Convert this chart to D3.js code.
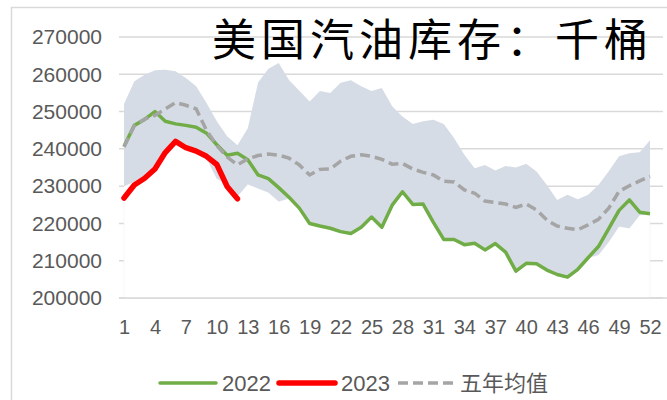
<!DOCTYPE html>
<html>
<head>
<meta charset="utf-8">
<script src="https://cdn.jsdelivr.net/npm/d3@7"></script>
<style>
  body { margin: 0; background: #fff; }
  text { font-family: "Liberation Sans", Arial, sans-serif; }
</style>
</head>
<body>
<script>
var weeks = d3.range(1, 53);
var tickWeeks = [1, 4, 7, 10, 13, 16, 19, 22, 25, 28, 31, 34, 37, 40, 43, 46, 49, 52];
var yTicks = [200000, 210000, 220000, 230000, 240000, 250000, 260000, 270000];

var y2023 = [226800, 230300, 232100, 234600, 239000, 242000, 240300, 239400, 238000, 235800, 229900, 226600];

var y2022 = [240700, 246300, 247900, 250000, 247400, 246700, 246300, 245800, 244200, 241100,
  238300, 238800, 237100, 233000, 232000, 229600, 227000, 224100, 220000, 219300,
  218700, 217800, 217300, 219000, 221700, 219000, 224900, 228500, 225100, 225200,
  220300, 215700, 215700, 214300, 214700, 212900, 214600, 212300, 207200, 209300,
  209200, 207500, 206300, 205600, 207700, 210800, 213800, 218600, 223500, 226300,
  223000, 222600];

var avg5 = [240500, 246300, 248000, 249000, 250700, 252400, 251700, 250700, 245000, 240900,
  237800, 235700, 237300, 238200, 238600, 238300, 237500, 235700, 233000, 234500,
  234600, 236700, 238000, 238400, 238000, 237200, 235900, 236100, 234600, 233700,
  233000, 231300, 231100, 229000, 228100, 226000, 225600, 225200, 224300, 225200,
  223600, 220900, 219300, 218700, 218300, 219600, 221100, 224100, 228600, 230100,
  231400, 232600];

var rangeMax = [252000, 258100, 259900, 261100, 261200, 260800, 259000, 256800, 252300, 247400,
  243400, 241000, 245500, 257800, 261500, 263000, 258500, 255600, 252700, 255500,
  255000, 257700, 258400, 256800, 255500, 256300, 251400, 248700, 246700, 247400,
  247800, 246700, 242900, 238400, 234800, 235700, 234200, 235400, 235000, 236000,
  233900, 230300, 226300, 227700, 226500, 227700, 230300, 234000, 238000, 238800,
  239100, 242300];

var rangeMin = [230000, 231200, 233000, 235300, 239400, 241800, 240000, 239200, 237500, 232000,
  230700, 227200, 230500, 229400, 228300, 225900, 226700, 224100, 220000, 219300,
  218700, 217800, 217300, 219000, 221700, 219000, 224900, 228500, 225100, 225200,
  220300, 215700, 215700, 214300, 214700, 212900, 214600, 212300, 207200, 209300,
  209200, 207500, 206300, 205600, 207700, 210800, 211500, 215000, 219200, 218700,
  222200, 222500];

var width = 667, height = 400;

var svg = d3.select("body")
  .append("svg")
  .attr("width", width)
  .attr("height", height);

svg.append("rect")
  .attr("x", 11.5).attr("y", 7.5)
  .attr("width", 700).attr("height", 500)
  .attr("fill", "#fff")
  .attr("stroke", "#d9d9d9")
  .attr("stroke-width", 1.5);

var xScale = d3.scalePoint()
  .domain(weeks)
  .range([124, 650]);

var yScale = d3.scaleLinear()
  .domain([200000, 270000])
  .range([298, 37]);

// gridlines
svg.append("g")
  .selectAll("line")
  .data(yTicks)
  .enter().append("line")
  .attr("x1", 119).attr("x2", 663)
  .attr("y1", function(d) { return yScale(d); })
  .attr("y2", function(d) { return yScale(d); })
  .attr("stroke", "#d9d9d9")
  .attr("stroke-width", 1.5);

// white lower area hides gridlines, band sits on top
var lowerArea = d3.area()
  .x(function(d, i) { return xScale(weeks[i]); })
  .y0(yScale(200000))
  .y1(function(d) { return yScale(d); });

svg.append("path")
  .datum(rangeMin)
  .attr("d", lowerArea)
  .attr("fill", "#fff")
  .attr("stroke", "#f2f2f2")
  .attr("stroke-width", 0.6);

var bandArea = d3.area()
  .x(function(d, i) { return xScale(weeks[i]); })
  .y0(function(d, i) { return yScale(rangeMin[i]); })
  .y1(function(d) { return yScale(d); });

svg.append("path")
  .datum(rangeMax)
  .attr("d", bandArea)
  .attr("fill", "#d6dce5");

// axis base line
svg.append("line")
  .attr("x1", 119).attr("x2", 667)
  .attr("y1", yScale(200000)).attr("y2", yScale(200000))
  .attr("stroke", "#d9d9d9")
  .attr("stroke-width", 1.5);

var yAxis = d3.axisLeft(yScale).tickValues(yTicks).tickSize(0).tickPadding(0)
  .tickFormat(function(d) { return d; });
svg.append("g")
  .attr("transform", "translate(102,0)")
  .call(yAxis)
  .call(function(g) { g.select(".domain").remove(); })
  .selectAll("text")
  .attr("fill", "#595959")
  .style("font-size", "21px")
  .style("font-family", "'Liberation Sans', Arial, sans-serif");

var xAxis = d3.axisBottom(xScale).tickValues(tickWeeks).tickSize(0).tickPadding(22);
svg.append("g")
  .attr("transform", "translate(0," + yScale(200000) + ")")
  .call(xAxis)
  .call(function(g) { g.select(".domain").remove(); })
  .selectAll("text")
  .attr("fill", "#595959")
  .style("font-size", "20px")
  .style("font-family", "'Liberation Sans', Arial, sans-serif");

function lineFor(arr) {
  return d3.line()
    .x(function(d, i) { return xScale(weeks[i]); })
    .y(function(d) { return yScale(d); })(arr);
}

svg.append("path")
  .attr("d", lineFor(y2022))
  .attr("fill", "none")
  .attr("stroke", "#70ad47")
  .attr("stroke-width", 3.5)
  .attr("stroke-linejoin", "round");

svg.append("path")
  .attr("d", lineFor(y2023))
  .attr("fill", "none")
  .attr("stroke", "#ff0000")
  .attr("stroke-width", 5.5)
  .attr("stroke-linejoin", "round")
  .attr("stroke-linecap", "round");

svg.append("path")
  .attr("d", lineFor(avg5))
  .attr("fill", "none")
  .attr("stroke", "#a5a5a5")
  .attr("stroke-width", 3.5)
  .attr("stroke-dasharray", "10,5");

// title
svg.append("text")
  .attr("x", 212).attr("y", 56)
  .attr("textLength", 436)
  .attr("lengthAdjust", "spacing")
  .style("font-family", "'Noto Sans CJK SC', sans-serif")
  .style("font-size", "44px")
  .attr("fill", "#000")
  .text("美国汽油库存：千桶");

// legend
var legendItems = [
  {name: "2022", color: "#70ad47", w: 3.5, dash: null, x: 160, tx: 222},
  {name: "2023", color: "#ff0000", w: 5.5, dash: null, x: 279, tx: 341},
  {name: "五年均值", color: "#a5a5a5", w: 3.5, dash: "10,5", x: 398, tx: 460}
];

var legend = svg.append("g");
legend.selectAll("line")
  .data(legendItems)
  .enter().append("line")
  .attr("x1", function(d) { return d.x; })
  .attr("x2", function(d) { return d.x + 56; })
  .attr("y1", 383).attr("y2", 383)
  .attr("stroke", function(d) { return d.color; })
  .attr("stroke-width", function(d) { return d.w; })
  .attr("stroke-dasharray", function(d) { return d.dash; })
  .attr("stroke-linecap", function(d) { return d.dash ? null : "round"; });

legend.selectAll("text")
  .data(legendItems)
  .enter().append("text")
  .attr("x", function(d) { return d.tx; })
  .attr("y", 391)
  .attr("fill", "#595959")
  .style("font-size", "22px")
  .style("font-family", "'Liberation Sans', 'Noto Sans CJK SC', sans-serif")
  .text(function(d) { return d.name; });
</script>
</body>
</html>
